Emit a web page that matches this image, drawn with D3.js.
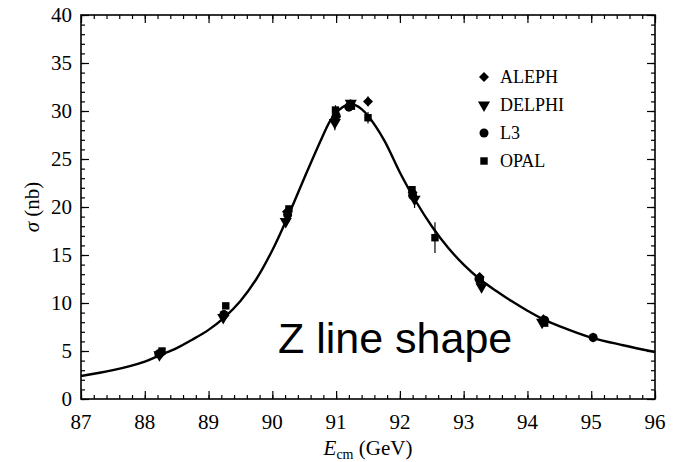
<!DOCTYPE html>
<html lang="en">
<head>
  <meta charset="UTF-8">
  <title>Z line shape</title>
  <script src="https://d3js.org/d3.v7.min.js"></script>
  <style>
    body { margin: 0; background: #fff; }
    svg { display: block; }
    .tick-label { font-family: "Liberation Serif", "DejaVu Serif", serif; font-size: 21px; fill: #000; }
    .axis-title { font-family: "Liberation Serif", "DejaVu Serif", serif; font-size: 21px; fill: #000; }
    .legend text { font-family: "Liberation Serif", "DejaVu Serif", serif; font-size: 18px; fill: #000; }
  </style>
</head>
<body>
  <svg id="chart" width="677" height="462"></svg>

  <script>
    // axis ticks
    const xTicks = [87, 88, 89, 90, 91, 92, 93, 94, 95, 96];
    const yTicks = [0, 5, 10, 15, 20, 25, 30, 35, 40];

    // fitted line shape (E in GeV, sigma in nb)
    const fitE = [87.0, 87.5, 88.0, 88.25, 88.5, 88.75, 89.0, 89.25, 89.5, 89.75, 90.0, 90.25, 90.5, 90.75,
                  90.9, 91.0, 91.1, 91.2, 91.3, 91.4, 91.5, 91.75, 92.0, 92.25, 92.5, 92.75, 93.0, 93.25,
                  93.5, 93.75, 94.0, 94.25, 94.5, 95.0, 95.5, 96.0];
    const fitSigma = [2.4, 3.0, 3.9, 4.6, 5.3, 6.2, 7.2, 8.5, 10.2, 12.5, 15.5, 19.1, 23.0, 26.8,
                      28.9, 29.8, 30.4, 30.7, 30.6, 30.2, 29.5, 27.0, 23.6, 20.6, 18.0, 15.8, 14.0, 12.5,
                      11.3, 10.2, 9.2, 8.3, 7.6, 6.4, 5.6, 4.9];

    // measurements per experiment
    const alephE = [88.25, 89.25, 90.23, 91.0, 91.22, 91.5, 92.2, 93.25, 94.25];
    const alephSigma = [4.7, 8.7, 19.5, 29.4, 30.7, 31.0, 21.5, 12.7, 8.3];
    const alephErr = [0.2, 0.2, 0.3, 0.5, 0.4, 0.5, 0.4, 0.3, 0.3];

    const delphiE = [88.23, 89.23, 90.21, 90.98, 91.23, 92.23, 93.28, 94.23];
    const delphiSigma = [4.6, 8.5, 18.5, 28.8, 30.8, 20.8, 11.7, 8.0];
    const delphiErr = [0.2, 0.2, 0.3, 0.8, 0.4, 0.9, 0.5, 0.3];

    const l3E = [88.22, 89.24, 90.24, 91.0, 91.2, 92.2, 93.24, 94.27, 95.03];
    const l3Sigma = [4.7, 8.8, 19.2, 29.5, 30.4, 21.2, 12.5, 8.2, 6.4];
    const l3Err = [0.15, 0.2, 0.3, 0.5, 0.4, 0.4, 0.3, 0.3, 0.5];

    const opalE = [88.27, 89.27, 90.26, 90.99, 91.24, 91.5, 92.19, 92.55, 93.26, 94.27];
    const opalSigma = [5.0, 9.7, 19.8, 30.1, 30.5, 29.3, 21.8, 16.8, 12.4, 7.9];
    const opalErr = [0.2, 0.3, 0.3, 0.5, 0.4, 0.6, 0.4, 1.6, 0.3, 0.3];

    const experiments = [
      { name: "ALEPH", E: alephE, s: alephSigma, err: alephErr, symbol: d3.symbolSquare, size: 50, rotate: 45 },
      { name: "DELPHI", E: delphiE, s: delphiSigma, err: delphiErr, symbol: d3.symbolTriangle, size: 64, rotate: 180 },
      { name: "L3", E: l3E, s: l3Sigma, err: l3Err, symbol: d3.symbolCircle, size: 64, rotate: 0 },
      { name: "OPAL", E: opalE, s: opalSigma, err: opalErr, symbol: d3.symbolSquare, size: 55, rotate: 0 }
    ];

    const svg = d3.select("#chart");
    const margin = { left: 81, top: 15, right: 22, bottom: 63 };
    const width = 677 - margin.left - margin.right;
    const height = 462 - margin.top - margin.bottom;

    const x = d3.scaleLinear().domain([87, 96]).range([0, width]);
    const y = d3.scaleLinear().domain([0, 40]).range([height, 0]);

    const g = svg.append("g").attr("transform", `translate(${margin.left},${margin.top})`);

    // ticks on all four sides, pointing inward
    const xMinor = d3.range(87, 96.001, 0.2);
    const yMinor = d3.range(0, 40.001, 1);

    function styleAxis(sel) {
      sel.select(".domain").remove();
      sel.selectAll(".tick line").attr("stroke", "#000").attr("stroke-width", 1.2);
    }

    g.append("g").attr("transform", `translate(0,${height})`)
      .call(d3.axisTop(x).tickValues(xMinor).tickSize(4).tickFormat(""))
      .call(styleAxis);
    g.append("g").attr("transform", `translate(0,${height})`)
      .call(d3.axisTop(x).tickValues(xTicks).tickSize(8).tickFormat(""))
      .call(styleAxis);
    g.append("g")
      .call(d3.axisBottom(x).tickValues(xMinor).tickSize(4).tickFormat(""))
      .call(styleAxis);
    g.append("g")
      .call(d3.axisBottom(x).tickValues(xTicks).tickSize(8).tickFormat(""))
      .call(styleAxis);
    g.append("g")
      .call(d3.axisRight(y).tickValues(yMinor).tickSize(4).tickFormat(""))
      .call(styleAxis);
    g.append("g")
      .call(d3.axisRight(y).tickValues(yTicks).tickSize(8).tickFormat(""))
      .call(styleAxis);
    g.append("g").attr("transform", `translate(${width},0)`)
      .call(d3.axisLeft(y).tickValues(yMinor).tickSize(4).tickFormat(""))
      .call(styleAxis);
    g.append("g").attr("transform", `translate(${width},0)`)
      .call(d3.axisLeft(y).tickValues(yTicks).tickSize(8).tickFormat(""))
      .call(styleAxis);

    // frame
    g.append("rect")
      .attr("width", width).attr("height", height)
      .attr("fill", "none").attr("stroke", "#000").attr("stroke-width", 1.6);

    // tick labels
    g.selectAll(".xlab").data(xTicks).join("text")
      .attr("class", "tick-label")
      .attr("x", d => x(d)).attr("y", height + 30)
      .attr("text-anchor", "middle")
      .text(d => d);
    g.selectAll(".ylab").data(yTicks).join("text")
      .attr("class", "tick-label")
      .attr("x", -9).attr("y", d => y(d) + 7)
      .attr("text-anchor", "end")
      .text(d => d);

    // axis titles
    const xTitle = svg.append("text")
      .attr("class", "axis-title")
      .attr("x", margin.left + width / 2).attr("y", 455)
      .attr("text-anchor", "middle");
    xTitle.append("tspan").attr("font-style", "italic").text("E");
    xTitle.append("tspan").attr("font-size", 14).attr("dy", 4).text("cm");
    xTitle.append("tspan").attr("dy", -4).text(" (GeV)");

    const yTitle = svg.append("text")
      .attr("class", "axis-title")
      .attr("transform", `translate(39,${margin.top + height / 2}) rotate(-90)`)
      .attr("text-anchor", "middle");
    yTitle.append("tspan").attr("font-style", "italic").text("σ");
    yTitle.append("tspan").text(" (nb)");

    // fitted curve
    const line = d3.line()
      .x((d, i) => x(fitE[i]))
      .y(d => y(d))
      .curve(d3.curveCatmullRom.alpha(0.5));
    g.append("path")
      .datum(fitSigma)
      .attr("d", line)
      .attr("fill", "none")
      .attr("stroke", "#000")
      .attr("stroke-width", 2.4);

    // measurements
    experiments.forEach(exp => {
      const pts = exp.E.map((e, i) => ({ e, s: exp.s[i], err: exp.err[i] }));
      const eg = g.append("g");
      eg.selectAll("line").data(pts).join("line")
        .attr("x1", d => x(d.e)).attr("x2", d => x(d.e))
        .attr("y1", d => y(d.s - d.err)).attr("y2", d => y(d.s + d.err))
        .attr("stroke", "#000").attr("stroke-width", 1.2);
      eg.selectAll("path").data(pts).join("path")
        .attr("d", d3.symbol().type(exp.symbol).size(exp.size))
        .attr("transform", d => `translate(${x(d.e)},${y(d.s)}) rotate(${exp.rotate})`)
        .attr("fill", "#000");
    });

    // legend
    const legend = svg.append("g").attr("class", "legend")
      .attr("transform", "translate(484,77)");
    experiments.forEach((exp, i) => {
      legend.append("path")
        .attr("d", d3.symbol().type(exp.symbol).size(exp.size))
        .attr("transform", `translate(0,${i * 28}) rotate(${exp.rotate})`)
        .attr("fill", "#000");
      legend.append("text")
        .attr("x", 16).attr("y", i * 28 + 6)
        .text(exp.name);
    });

    // annotation
    svg.append("text")
      .attr("x", 278).attr("y", 353)
      .attr("font-family", "Liberation Sans, Arial, sans-serif")
      .attr("font-size", 43)
      .attr("fill", "#000")
      .text("Z line shape");
  </script>
</body>
</html>
